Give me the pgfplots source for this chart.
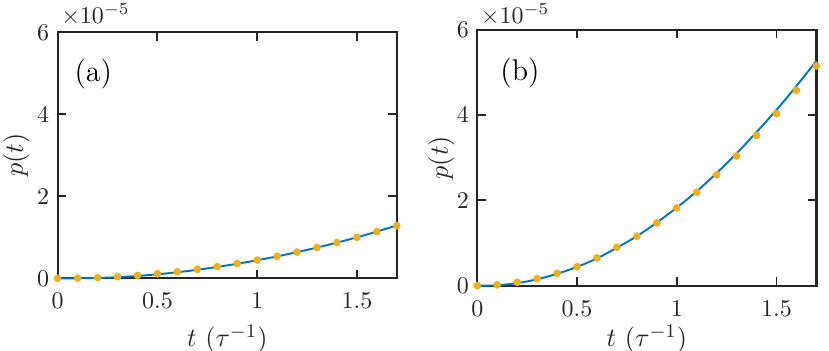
\documentclass[border=0pt]{standalone}
\usepackage{pgfplots}
\pgfplotsset{compat=1.18}
\definecolor{mblue}{HTML}{0072BD}
\definecolor{myellow}{HTML}{EDB120}
\definecolor{axgray}{HTML}{262626}
\pgfplotsset{
  mystyle/.style={
    scale only axis, width=141.3pt,
    xmin=0, xmax=1.7, ymin=0, ymax=6,
    xtick={0,0.5,1,1.5}, ytick={0,2,4,6},
    tick align=inside, minor tick num=0,
    axis line style={axgray, line width=0.9pt},
    major tick length=3.5pt,
    every tick/.style={axgray, line width=0.8pt},
    ticklabel style={font=\fontsize{9.7}{11}\selectfont, text=axgray},
    xticklabel style={yshift=-2.8pt},
    xlabel={$t~(\tau^{-1})$}, ylabel={$p(t)$},
    label style={font=\fontsize{11.2}{13}\selectfont, text=axgray},
    clip=false,
  },
  dots/.style={only marks, mark=*, mark size=1.4pt, color=myellow},
  fit/.style={mblue, line width=0.8pt, smooth, no marks},
}
\begin{document}
\begin{tikzpicture}
\begin{axis}[mystyle, height=102.5pt, at={(0pt,0pt)},
  xlabel style={at={([yshift=-25.4pt]axis description cs:0.5,0)}, anchor=center},
  ylabel style={at={([xshift=-17.2pt]axis description cs:0,0.5)}, anchor=center, rotate=0}]
\addplot[fit] coordinates {
(0,0) (0.1,0.0) (0.2,0.008) (0.3,0.028) (0.4,0.058) (0.5,0.098) (0.6,0.148) (0.7,0.208) (0.8,0.278) (0.9,0.355) (1.0,0.44) (1.1,0.535) (1.2,0.638) (1.3,0.75) (1.4,0.87) (1.5,1.0) (1.6,1.14) (1.7,1.29)};
\addplot[dots] coordinates {
(0,0) (0.1,0.004) (0.2,0.018) (0.3,0.04) (0.4,0.071) (0.5,0.111) (0.6,0.16) (0.7,0.218) (0.8,0.285) (0.9,0.36) (1.0,0.445) (1.1,0.538) (1.2,0.64) (1.3,0.752) (1.4,0.872) (1.5,1.0) (1.6,1.14) (1.7,1.285)};
\node[font=\fontsize{12.5}{14}\selectfont, text=black] at (rel axis cs:0.105,0.830) {(a)};
\node[anchor=base west, inner sep=0pt, font=\fontsize{9.7}{11}\selectfont, text=axgray] at ([xshift=1.3pt,yshift=3.75pt]rel axis cs:0,1) {$\times10^{-5}$};
\end{axis}
\begin{axis}[mystyle, height=106.7pt, at={(174.83pt,-3.08pt)},
  xlabel style={at={([yshift=-22.3pt]axis description cs:0.5,0)}, anchor=center},
  ylabel style={at={([xshift=-15pt]axis description cs:0,0.5)}, anchor=center, rotate=0}]
\addplot[fit] coordinates {
(0,0) (0.1,0.01) (0.2,0.06) (0.3,0.15) (0.4,0.28) (0.5,0.44) (0.6,0.64) (0.7,0.89) (0.8,1.16) (0.9,1.48) (1.0,1.83) (1.1,2.21) (1.2,2.64) (1.3,3.10) (1.4,3.60) (1.5,4.12) (1.6,4.68) (1.7,5.27)};
\addplot[dots] coordinates {
(0,0) (0.1,0.02) (0.2,0.08) (0.3,0.164) (0.4,0.29) (0.5,0.445) (0.6,0.65) (0.7,0.90) (0.8,1.16) (0.9,1.47) (1.0,1.82) (1.1,2.19) (1.2,2.60) (1.3,3.04) (1.4,3.52) (1.5,4.03) (1.6,4.58) (1.7,5.15)};
\node[font=\fontsize{12.5}{14}\selectfont, text=black] at (rel axis cs:0.126,0.831) {(b)};
\node[anchor=base west, inner sep=0pt, font=\fontsize{9.7}{11}\selectfont, text=axgray] at ([xshift=1.3pt,yshift=2.5pt]rel axis cs:0,1) {$\times10^{-5}$};
\end{axis}
\pgfresetboundingbox
\path[use as bounding box] (-24.04pt,-29.875pt) rectangle (321.375pt,115.96pt);
\end{tikzpicture}
\end{document}
